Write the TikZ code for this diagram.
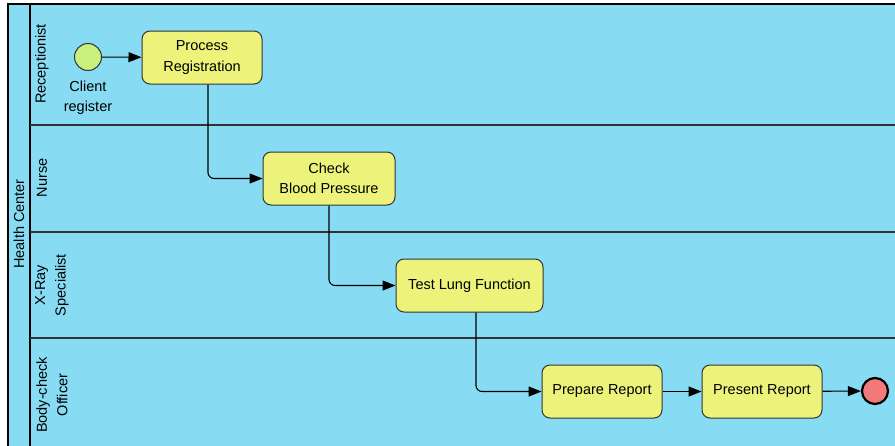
\documentclass[tikz,border=0pt]{standalone}
\usepackage{fontspec}
\setmainfont{Liberation Sans}
\usetikzlibrary{arrows.meta}
\definecolor{poolbg}{HTML}{87DCF4}
\definecolor{taskfill}{HTML}{EDF37A}
\definecolor{startfill}{HTML}{C8F07C}
\definecolor{endfill}{HTML}{F27A7A}
\definecolor{edgegray}{HTML}{333333}
\newcommand{\diafont}{\fontsize{14.5}{20.5}\selectfont}
\begin{document}
\begin{tikzpicture}[x=1pt,y=-1pt,
  task/.style={draw=edgegray,line width=1pt,fill=taskfill,rounded corners=8pt,
    minimum height=53pt,align=center,inner sep=0pt,font=\diafont},
  flow/.style={draw=black,line width=1.1pt,-{Triangle[length=13pt,width=10pt]},rounded corners=6pt},
  lanelabel/.style={rotate=90,align=center,font=\diafont},
  lbl/.style={align=center,font=\diafont}]
\useasboundingbox (0,0) rectangle (895,445);
% pool
\fill[poolbg] (8,4) rectangle (900,450);
\draw[line width=1.5pt] (900,4) -- (8,4) -- (8,450);
\draw[line width=1.5pt] (30,4) -- (30,450);
\draw[edgegray,line width=1.2pt] (30,125) -- (900,125);
\draw[edgegray,line width=1.2pt] (30,232) -- (900,232);
\draw[edgegray,line width=1.2pt] (30,338) -- (900,338);
% labels
\node[lanelabel] (pool) at (19,224) {Health Center};
\node[lanelabel] (l1) at (42,64) {Receptionist};
\node[lanelabel] (l2) at (42,178) {Nurse};
\node[lanelabel] (l3) at (52,285) {X-Ray\\Specialist};
\node[lanelabel] (l4) at (52,395) {Body-check\\Officer};
% events
\node[circle,draw=edgegray,line width=1pt,fill=startfill,minimum size=27pt,inner sep=0pt] (start) at (88,57) {};
\node[lbl] (startlbl) at (88,97.5) {Client\\register};
\node[circle,draw=black,line width=2.2pt,fill=endfill,minimum size=26pt,inner sep=0pt] (end) at (875,391) {};
% tasks
\node[task,minimum width=120pt] (t1) at (202,57.5) {Process\\Registration};
\node[task,minimum width=132pt] (t2) at (329,178.5) {Check\\Blood Pressure};
\node[task,minimum width=147pt] (t3) at (469.5,285.5) {Test Lung Function};
\node[task,minimum width=120pt] (t4) at (602,391.5) {Prepare Report};
\node[task,minimum width=120pt] (t5) at (762,391.5) {Present Report};
% flows
\draw[flow] (start) -- (t1);
\draw[flow] (t1.south -| 208,0) |- (t2.west);
\draw[flow] (t2.south) |- (t3.west);
\draw[flow] (t3.south -| 476,0) |- (t4.west);
\draw[flow] (t4) -- (t5);
\draw[flow] (t5) -- (end);
\end{tikzpicture}
\end{document}
